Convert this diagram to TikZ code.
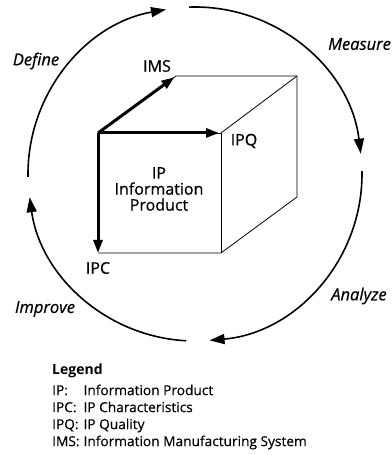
\documentclass[tikz,border=0pt]{standalone}
\usepackage{fontspec}
\setmainfont{Open Sans}
\newfontfamily\labelfont{Open Sans}[FakeBold=0.6]
\newfontfamily\legendfont{Open Sans}[FakeBold=0.35]
\usetikzlibrary{arrows.meta,calc}
\begin{document}
\begin{tikzpicture}[x=1pt,y=1pt,
  edge/.style={line width=0.8pt,line join=miter},
  axis/.style={line width=3pt,-{Triangle[length=13pt,width=9pt]},shorten >=2pt},
  cyc/.style={line width=1.6pt,-{Triangle[length=15pt,width=10pt]}},
  lbl/.style={font=\labelfont\fontsize{16}{16}\selectfont,inner sep=0pt},
  phase/.style={font=\labelfont\fontsize{16.5}{18}\selectfont\itshape,inner sep=0pt},
]
\useasboundingbox (0,0) rectangle (391,455);

% cube corners
\coordinate (A) at (98,322);   % front top-left (origin of the axes)
\coordinate (B) at (221,322);  % front top-right
\coordinate (C) at (221,202);  % front bottom-right
\coordinate (D) at (98,202);   % front bottom-left
\coordinate (E) at (176,379);  % back top-left
\coordinate (F) at (297,379);  % back top-right
\coordinate (G) at (297,258);  % back bottom-right

% cube edges
\draw[edge] (E) -- (F) -- (G) -- (C) -- (D);
\draw[edge] (B) -- (F);
\draw[edge] (B) -- (C);
\draw[edge] (A) -- (B);
\draw[edge] (A) -- (E);

% the three axes
\draw[axis] (A) -- (E);
\draw[axis] (A) -- (B);
\draw[axis,shorten >=0pt] (A) -- (D);

% axis labels
\node[lbl] (ims) at (157,389) {IMS};
\node[lbl] (ipq) at (244,314) {IPQ};
\node[lbl] (ipc) at (98,187) {IPC};
\node[lbl,align=center] (ip) at (159,266) {IP\\Information\\Product};

% improvement cycle
\coordinate (c) at (195,281);
\draw[cyc] ($(c)+(181:167)$) arc[start angle=181,end angle=100,radius=167];
\draw[cyc] ($(c)+(92:167)$) arc[start angle=92,end angle=7,radius=167];
\draw[cyc] ($(c)+(1:167)$) arc[start angle=1,end angle=-85,radius=167];
\draw[cyc] ($(c)+(-93:167)$) arc[start angle=-93,end angle=-172,radius=167];

\node[phase] (define) at (36,394) {Define};
\node[phase,anchor=west] (measure) at (328,411) {Measure};
\node[phase] (analyze) at (359,159) {Analyze};
\node[phase] (improve) at (45,146) {Improve};

% legend
\node[anchor=west,inner sep=0pt,font=\fontsize{14}{17}\selectfont\bfseries] (legend) at (52,84) {Legend};
\node[anchor=north west,inner sep=0pt,font=\legendfont\fontsize{13.7}{17}\selectfont] (items) at (52,72)
  {\begin{tabular}{@{}l@{\hspace{4pt}}l@{}}
   IP: & Information Product\\
   IPC: & IP Characteristics\\
   IPQ: & IP Quality\\
   IMS: & Information Manufacturing System
   \end{tabular}};
\end{tikzpicture}
\end{document}
